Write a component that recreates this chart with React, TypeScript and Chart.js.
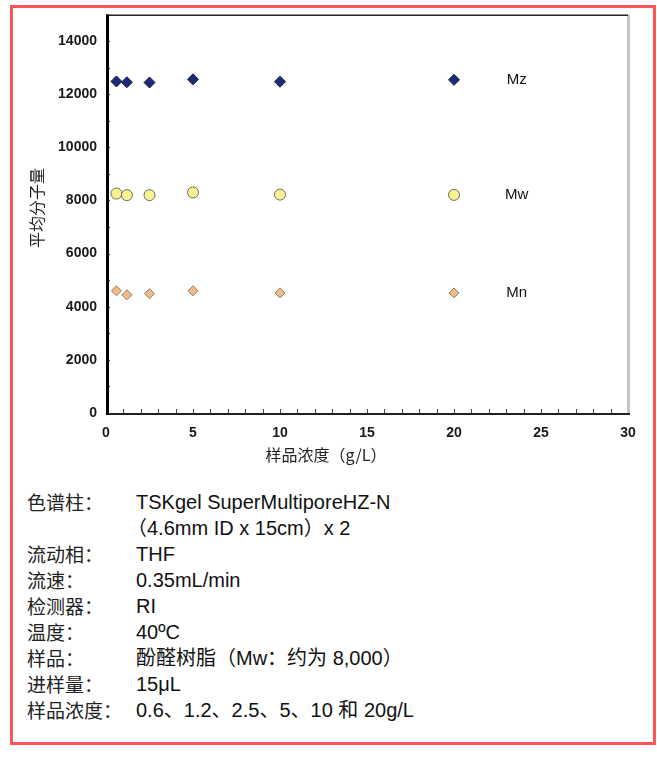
import React, { useEffect, useRef } from "react";
import { Chart, registerables } from "chart.js";

Chart.register(...registerables);

// ---- data ----
const concentrations = [0.6, 1.2, 2.5, 5, 10, 20];
const mzValues = [12480, 12450, 12440, 12560, 12470, 12540];
const mwValues = [8260, 8200, 8200, 8300, 8220, 8210];
const mnValues = [4600, 4450, 4490, 4600, 4520, 4520];
const seriesNames = ["Mz", "Mw", "Mn"];
const seriesLabelX = 23.6;

const xMin = 0;
const xMax = 30;
const xStep = 1;
const xLabelStep = 5;
const yMin = 0;
const yMax = 15000;
const yStep = 1000;
const yLabelStep = 2000;

const xTitle = "样品浓度（g/L）";
const yTitle = "平均分子量";

const conditionLabels = ["色谱柱：", "", "流动相：", "流速：", "检测器：", "温度：", "样品：", "进样量：", "样品浓度："];
const conditionValues = [
  "TSKgel SuperMultiporeHZ-N",
  "（4.6mm ID x 15cm）x 2",
  "THF",
  "0.35mL/min",
  "RI",
  "40ºC",
  "酚醛树脂（Mw：约为 8,000）",
  "15μL",
  "0.6、1.2、2.5、5、10 和 20g/L",
];

const CANVAS_W = 640;
const CANVAS_H = 470;

const decorPlugin = {
  id: "decor",
  afterDraw(chart: any) {
    const { ctx, chartArea, scales } = chart;
    const xs = scales.x;
    const ys = scales.y;
    const { left, right, top, bottom } = chartArea;
    ctx.save();
    // inward tick marks
    ctx.strokeStyle = "#444";
    ctx.lineWidth = 1;
    xs.ticks.forEach((t: any) => {
      if (t.value <= xMin || t.value >= xMax) return;
      const px = Math.round(xs.getPixelForValue(t.value)) + 0.5;
      ctx.beginPath();
      ctx.moveTo(px, bottom);
      ctx.lineTo(px, bottom - 4);
      ctx.stroke();
    });
    ys.ticks.forEach((t: any) => {
      if (t.value <= yMin || t.value >= yMax) return;
      const py = Math.round(ys.getPixelForValue(t.value)) + 0.5;
      ctx.beginPath();
      ctx.moveTo(left, py);
      ctx.lineTo(left + 4, py);
      ctx.stroke();
    });
    // frame
    ctx.strokeStyle = "#c4c4c4";
    ctx.lineWidth = 3;
    ctx.beginPath();
    ctx.moveTo(right + 0.5, top);
    ctx.lineTo(right + 0.5, bottom);
    ctx.stroke();
    ctx.strokeStyle = "#222";
    ctx.lineWidth = 1.5;
    ctx.beginPath();
    ctx.moveTo(left, top + 0.75);
    ctx.lineTo(right, top + 0.75);
    ctx.stroke();
    ctx.strokeStyle = "#222";
    ctx.lineWidth = 2;
    ctx.beginPath();
    ctx.moveTo(left, bottom + 1);
    ctx.lineTo(right + 2, bottom + 1);
    ctx.stroke();
    ctx.strokeStyle = "#000";
    ctx.lineWidth = 3;
    ctx.beginPath();
    ctx.moveTo(left + 1.5, top);
    ctx.lineTo(left + 1.5, bottom + 2);
    ctx.stroke();

    // series labels
    const lastVals = [mzValues, mwValues, mnValues].map((a) => a[a.length - 1]);
    ctx.fillStyle = "#111";
    ctx.font = "15px 'Liberation Sans', Arial, sans-serif";
    ctx.textAlign = "center";
    ctx.textBaseline = "middle";
    seriesNames.forEach((n, i) => {
      ctx.fillText(n, xs.getPixelForValue(seriesLabelX), ys.getPixelForValue(lastVals[i]));
    });

    // axis titles
    ctx.font = "16px 'Noto Sans CJK SC', sans-serif";
    ctx.fillStyle = "#222";
    ctx.textAlign = "center";
    ctx.textBaseline = "middle";
    ctx.fillText(xTitle, 313, 447);
    ctx.translate(24, 200);
    ctx.rotate(-Math.PI / 2);
    ctx.fillText(yTitle, 0, 0);
    ctx.restore();
  },
};

function ChartView() {
  const ref = useRef<HTMLCanvasElement | null>(null);
  useEffect(() => {
    if (!ref.current) return;
    const toPts = (vals: number[]) => concentrations.map((c, i) => ({ x: c, y: vals[i] }));
    const chart = new Chart(ref.current, {
      type: "scatter",
      data: {
        datasets: [
          {
            label: seriesNames[0],
            data: toPts(mzValues),
            pointStyle: "rectRot",
            pointRadius: 5.5,
            backgroundColor: "#1f2a76",
            borderColor: "#141a4a",
            borderWidth: 1,
          },
          {
            label: seriesNames[1],
            data: toPts(mwValues),
            pointStyle: "circle",
            pointRadius: 5.5,
            backgroundColor: "#f8f392",
            borderColor: "#6e6c58",
            borderWidth: 1,
          },
          {
            label: seriesNames[2],
            data: toPts(mnValues),
            pointStyle: "rectRot",
            pointRadius: 5,
            backgroundColor: "#f6ba85",
            borderColor: "#8c7c6c",
            borderWidth: 1,
          },
        ],
      },
      options: {
        animation: false,
        responsive: false,
        maintainAspectRatio: false,
        devicePixelRatio: 1,
        layout: { padding: { left: 0, top: 5, right: 25, bottom: 0 } },
        plugins: { legend: { display: false }, tooltip: { enabled: false } },
        scales: {
          x: {
            type: "linear",
            min: xMin,
            max: xMax,
            grid: { display: false, drawTicks: false },
            border: { display: false },
            ticks: {
              stepSize: xStep,
              autoSkip: false,
              maxRotation: 0,
              padding: 12,
              color: "#1a1a1a",
              font: { family: "'Liberation Sans', Arial, sans-serif", size: 14, weight: "bold" },
              callback: (v: any) => (Number(v) % xLabelStep === 0 ? String(v) : ""),
            },
            afterFit: (s: any) => {
              s.height = CANVAS_H - 405;
              s.paddingLeft = 0;
              s.paddingRight = 0;
            },
          },
          y: {
            type: "linear",
            min: yMin,
            max: yMax,
            grid: { display: false, drawTicks: false },
            border: { display: false },
            ticks: {
              stepSize: yStep,
              autoSkip: false,
              padding: 9,
              color: "#1a1a1a",
              font: { family: "'Liberation Sans', Arial, sans-serif", size: 14, weight: "bold" },
              callback: (v: any) => (Number(v) % yLabelStep === 0 ? String(v) : ""),
            },
            afterFit: (s: any) => {
              s.width = 93;
              s.paddingTop = 0;
              s.paddingBottom = 0;
            },
          },
        },
      },
      plugins: [decorPlugin],
    } as any);
    return () => chart.destroy();
  }, []);
  return (
    <canvas
      ref={ref}
      width={CANVAS_W}
      height={CANVAS_H}
      style={{ position: "absolute", left: 0, top: 0, width: CANVAS_W, height: CANVAS_H }}
    />
  );
}

export default function App() {
  const latin = "'Liberation Sans', Arial, 'Noto Sans CJK SC', sans-serif";
  return (
    <div
      style={{
        position: "absolute",
        left: 10,
        top: 5,
        width: 646,
        height: 740,
        boxSizing: "border-box",
        border: "3px solid #ff5555",
        background: "#fff",
      }}
    >
      <ChartView />
      <div style={{ position: "absolute", left: 0, top: 481, width: 640 }}>
        {conditionLabels.map((lab, i) => (
          <div key={i} style={{ position: "relative", height: 26, lineHeight: "26px", whiteSpace: "nowrap" }}>
            <span
              style={{
                position: "absolute",
                left: 14,
                top: 0,
                fontFamily: "'Noto Sans CJK SC', sans-serif",
                fontSize: 19,
                color: "#222",
              }}
            >
              {lab}
            </span>
            <span
              style={{
                position: "absolute",
                left: lab === "" ? 114 : 123,
                top: 0,
                fontFamily: latin,
                fontSize: 20,
                color: "#111",
              }}
            >
              {conditionValues[i]}
            </span>
          </div>
        ))}
      </div>
    </div>
  );
}
